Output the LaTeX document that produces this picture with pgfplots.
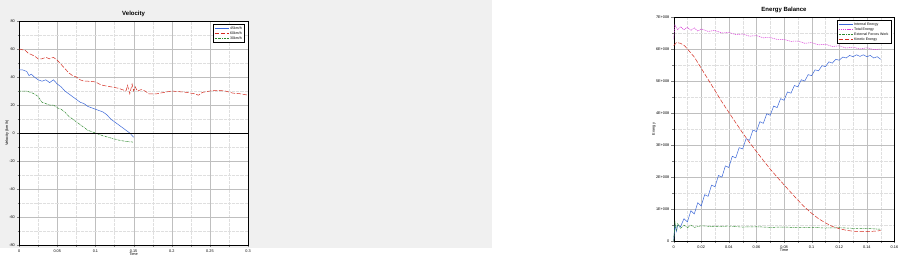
\documentclass[border=0pt]{standalone}
\usepackage{pgfplots}
\pgfplotsset{compat=1.18}
\usepackage{fontspec}
\setmainfont{Liberation Sans}
\definecolor{bgc}{HTML}{F0F0F0}
\definecolor{cBlue}{HTML}{3A66D8}
\definecolor{cRed}{HTML}{D42A1E}
\definecolor{cGreen}{HTML}{2E8A2E}
\definecolor{cMag}{HTML}{D83AD8}
\begin{document}
\begin{tikzpicture}[x=1pt,y=1pt]
\fill[bgc] (0,0) rectangle (900,454);
\pgfplotsset{every axis/.style={scale only axis, anchor=south west,
  axis background/.style={fill=white},
  font=\fontsize{7}{8}\selectfont, tick label style={font=\fontsize{7}{8}\selectfont},
  /pgf/number format/assume math mode=true,
  grid=both, major grid style={gray!50}, minor grid style={gray!25,dotted},
  minor tick num=1, tick align=outside, tick pos=left,
  title style={font=\bfseries\fontsize{11}{12}\selectfont, yshift=-2pt},
  xlabel style={yshift=6pt}, ylabel style={yshift=-6pt},
  legend style={at={(0.985,0.985)},anchor=north east,font=\fontsize{6.5}{7}\selectfont,draw=black,row sep=-1pt, legend cell align=left},
  legend image post style={xscale=1.5},
  every axis plot/.append style={line width=0.9pt}}}
\begin{axis}[at={(25,22)}, width=419, height=410, xmin=0,xmax=0.3,ymin=-80,ymax=80,
  title={Velocity}, xlabel={Time}, ylabel={Velocity (km/h)},
  xtick={0,0.05,...,0.3}, xticklabels={0,0.05,0.1,0.15,0.2,0.25,0.3},
  ytick={-80,-60,...,80}, scaled x ticks=false]
\addplot[cBlue] coordinates {(0,45)(0.005,45)(0.01,44)(0.013,41)(0.016,42)(0.02,40)(0.025,38)(0.03,37)(0.035,38)(0.04,36)(0.045,38)(0.05,35)(0.055,33)(0.06,30)(0.065,28)(0.07,26)(0.075,24)(0.08,22)(0.085,21)(0.09,19)(0.095,18)(0.1,17)(0.105,16)(0.11,15)(0.115,13)(0.12,10)(0.125,8)(0.13,6)(0.135,4)(0.14,2)(0.145,0)(0.15,-3)};
\addlegendentry{45km/h}
\addplot[cRed, dash pattern=on 8pt off 3pt] coordinates {(0,60)(0.008,59)(0.012,57)(0.016,56)(0.02,55)(0.025,53)(0.03,53)(0.035,54)(0.04,53)(0.045,54)(0.05,52)(0.055,49)(0.06,46)(0.065,43)(0.07,41)(0.075,40)(0.08,38)(0.085,37)(0.09,37)(0.1,36.5)(0.105,35)(0.11,34)(0.12,33)(0.13,32)(0.135,31)(0.14,30)(0.142,34)(0.145,28)(0.148,35)(0.15,30)(0.152,33)(0.155,30)(0.16,31)(0.165,30)(0.17,28)(0.18,28)(0.19,29)(0.2,30)(0.21,29.5)(0.22,29)(0.23,28)(0.235,27)(0.24,29)(0.25,30)(0.26,30.5)(0.27,30)(0.28,28.5)(0.29,28)(0.3,27)};
\addlegendentry{60km/h}
\addplot[cGreen, dash pattern=on 4pt off 1.5pt on 1pt off 1.5pt] coordinates {(0,30)(0.01,30)(0.015,29)(0.02,28)(0.025,26)(0.03,22)(0.035,21)(0.04,20)(0.045,20)(0.05,18)(0.055,17)(0.06,15)(0.065,12)(0.07,10)(0.075,8)(0.08,6)(0.085,4)(0.09,2)(0.095,1)(0.1,0)(0.105,-1)(0.11,-2)(0.12,-3.5)(0.13,-5)(0.14,-6)(0.15,-6.5)};
\addlegendentry{30km/h}
\draw[black, line width=0.6pt] (axis cs:0,0) -- (axis cs:0.3,0);
\end{axis}
\begin{axis}[at={(488,22)}, width=404, height=410, xmin=0,xmax=0.16,ymin=0,ymax=7,
  title={Energy Balance}, xlabel={Time}, ylabel={Energy},
  xtick={0,0.02,...,0.16}, xticklabels={0,0.02,0.04,0.06,0.08,0.1,0.12,0.14,0.16},
  ytick={0,1,...,7}, yticklabels={0,1E+008,2E+008,3E+008,4E+008,5E+008,6E+008,7E+008},
  scaled x ticks=false]
\addplot[cBlue] coordinates {(0,0)(0.001,0.5)(0.002,0.3)(0.003,0.5)(0.005,0.45)(0.0075,0.7)(0.01,0.6)(0.0125,0.95)(0.015,0.85)(0.0175,1.2)(0.02,1.1)(0.0225,1.45)(0.025,1.4)(0.0275,1.75)(0.03,1.7)(0.0325,2.05)(0.035,2.0)(0.0375,2.35)(0.04,2.3)(0.0425,2.65)(0.045,2.6)(0.0475,2.92)(0.05,2.88)(0.0525,3.2)(0.055,3.15)(0.0575,3.47)(0.06,3.42)(0.0625,3.73)(0.065,3.68)(0.0675,3.98)(0.07,3.93)(0.0725,4.22)(0.075,4.17)(0.0775,4.45)(0.08,4.4)(0.0825,4.66)(0.085,4.62)(0.0875,4.86)(0.09,4.82)(0.0925,5.04)(0.095,5.0)(0.0975,5.2)(0.1,5.17)(0.1025,5.35)(0.105,5.32)(0.1075,5.48)(0.11,5.45)(0.1125,5.6)(0.115,5.56)(0.1175,5.68)(0.12,5.65)(0.1225,5.75)(0.125,5.72)(0.1275,5.8)(0.13,5.76)(0.1325,5.82)(0.135,5.77)(0.1375,5.82)(0.14,5.76)(0.1425,5.8)(0.145,5.72)(0.1475,5.76)(0.15,5.68)};
\addlegendentry{Internal Energy}
\addplot[cMag, dash pattern=on 2pt off 1.5pt] coordinates {(0,6.3)(0.001,6.75)(0.003,6.6)(0.005,6.7)(0.0075,6.6)(0.01,6.68)(0.0125,6.58)(0.015,6.66)(0.0175,6.56)(0.02,6.63)(0.025,6.55)(0.03,6.58)(0.035,6.5)(0.04,6.52)(0.045,6.45)(0.05,6.47)(0.055,6.4)(0.06,6.42)(0.065,6.35)(0.07,6.36)(0.075,6.3)(0.08,6.3)(0.085,6.24)(0.09,6.25)(0.095,6.18)(0.1,6.2)(0.105,6.13)(0.11,6.15)(0.115,6.08)(0.12,6.1)(0.125,6.03)(0.13,6.06)(0.135,6.0)(0.14,6.04)(0.145,5.98)(0.15,6.0)};
\addlegendentry{Total Energy}
\addplot[cGreen, dash pattern=on 4pt off 1.5pt on 1pt off 1.5pt] coordinates {(0,0)(0.001,0.6)(0.002,0.35)(0.003,0.55)(0.005,0.4)(0.0075,0.5)(0.01,0.42)(0.0125,0.5)(0.015,0.43)(0.02,0.48)(0.03,0.45)(0.04,0.47)(0.05,0.44)(0.06,0.45)(0.07,0.43)(0.08,0.44)(0.09,0.42)(0.1,0.43)(0.11,0.41)(0.12,0.42)(0.13,0.4)(0.14,0.4)(0.15,0.37)};
\addlegendentry{External Forces Work}
\addplot[cRed, dash pattern=on 8pt off 3pt] coordinates {(0,6.1)(0.002,6.2)(0.005,6.18)(0.008,6.1)(0.01,6.0)(0.015,5.75)(0.02,5.4)(0.025,5.05)(0.03,4.7)(0.035,4.35)(0.04,4.02)(0.045,3.7)(0.05,3.38)(0.055,3.08)(0.06,2.8)(0.065,2.52)(0.07,2.25)(0.075,2.0)(0.08,1.76)(0.085,1.52)(0.09,1.28)(0.095,1.06)(0.1,0.87)(0.105,0.7)(0.11,0.57)(0.115,0.46)(0.12,0.39)(0.125,0.34)(0.13,0.31)(0.14,0.3)(0.145,0.31)(0.15,0.33)};
\addlegendentry{Kinetic Energy}
\end{axis}
\end{tikzpicture}
\end{document}
